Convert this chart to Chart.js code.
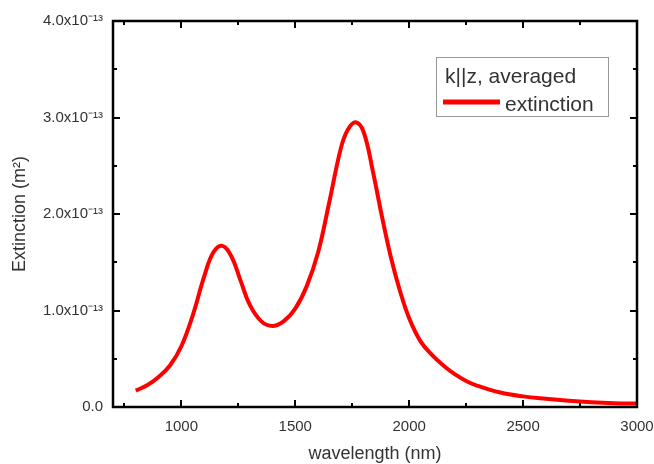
<!DOCTYPE html>
<html>
<head>
<meta charset="utf-8">
<script src="https://cdn.jsdelivr.net/npm/chart.js@4.4.0/dist/chart.umd.min.js"></script>
<style>
html,body{margin:0;padding:0;background:#fff}
#graph{display:block}
</style>
</head>
<body>
<canvas id="graph" width="654" height="464" style="width:654px;height:464px"></canvas>
<script>

// wavelength in nm
const wavelength=[800,850,900,950,1000,1050,1100,1140,1180,1220,1260,1300,1350,1400,1450,1500,1550,1600,1650,1700,1730,1765,1800,1840,1880,1920,1960,2000,2050,2100,2150,2200,2250,2300,2400,2500,2600,2700,2800,2900,3000];
// extinction in units of 1e-13 m^2
const extinction=[0.17,0.225,0.31,0.43,0.63,0.95,1.35,1.60,1.67,1.56,1.31,1.06,0.89,0.84,0.89,1.02,1.25,1.60,2.13,2.68,2.87,2.95,2.85,2.45,1.98,1.55,1.20,0.92,0.68,0.54,0.43,0.34,0.27,0.22,0.15,0.11,0.085,0.065,0.05,0.04,0.035];

const xTicks=[750,1000,1250,1500,1750,2000,2250,2500,2750,3000];
const xTickLabels=["","1000","","1500","","2000","","2500","","3000"];
const yTicks=[0,0.5,1,1.5,2,2.5,3,3.5,4];
const yTickLabels=["0.0","","1.0x10⁻¹³","","2.0x10⁻¹³","","3.0x10⁻¹³","","4.0x10⁻¹³"];

const legendTitle="k||z, averaged";
const seriesName="extinction";

const frameTicks={
id:'frameTicks',
afterDatasetsDraw(c){
const a=c.chartArea,ctx=c.ctx,xs=c.scales.x,ys=c.scales.y;
ctx.save();
ctx.strokeStyle='#000';
ctx.lineWidth=2;
ctx.beginPath();
xTicks.forEach((v,i)=>{
if(v<=xs.min||v>=xs.max)return;
const px=Math.round(xs.getPixelForValue(v));
const len=xTickLabels[i]?7:4;
ctx.moveTo(px,a.bottom);ctx.lineTo(px,a.bottom-len);
ctx.moveTo(px,a.top);ctx.lineTo(px,a.top+len);
});
yTicks.forEach((v,i)=>{
if(v<=ys.min||v>=ys.max)return;
const py=Math.round(ys.getPixelForValue(v));
const len=yTickLabels[i]?7:4;
ctx.moveTo(a.left,py);ctx.lineTo(a.left+len,py);
ctx.moveTo(a.right,py);ctx.lineTo(a.right-len,py);
});
ctx.stroke();
ctx.lineWidth=2.5;
ctx.strokeRect(a.left,a.top,a.right-a.left,a.bottom-a.top);
ctx.restore();
}
};

const boxLegend={
id:'boxLegend',
afterDraw(c){
const ctx=c.ctx,ds=c.data.datasets[0];
const bx=436,by=57,bw=172,bh=59;
ctx.save();
ctx.fillStyle='#fff';
ctx.fillRect(bx,by,bw,bh);
ctx.strokeStyle='#999';
ctx.lineWidth=1;
ctx.strokeRect(bx+0.5,by+0.5,bw,bh);
ctx.fillStyle='#333';
ctx.font='21px "Liberation Sans", Arial, sans-serif';
ctx.textBaseline='alphabetic';
ctx.fillText(legendTitle,445,83);
ctx.fillText(ds.label,505,111);
ctx.strokeStyle=ds.borderColor;
ctx.lineWidth=5;
ctx.beginPath();
ctx.moveTo(443,102);ctx.lineTo(500,102);
ctx.stroke();
ctx.restore();
}
};

const ctx=document.getElementById("graph");

new Chart(ctx,{
type:'line',
data:{
datasets:[{
label:seriesName,
data:wavelength.map((w,i)=>({x:w,y:extinction[i]})),
borderColor:"#ff0000",
borderWidth:4,
pointRadius:0,
fill:false,
tension:0.4
}]
},
options:{
responsive:false,
animation:false,
layout:{padding:{top:21,right:17,left:0,bottom:0}},
plugins:{legend:{display:false},tooltip:{enabled:false}},
scales:{
x:{
type:'linear',
min:700,max:3000,
afterFit:s=>{s.height=57;s.paddingLeft=0;s.paddingRight=0;},
afterBuildTicks:s=>{s.ticks=xTicks.map(v=>({value:v}));},
grid:{display:false,drawTicks:false},
border:{display:false},
ticks:{
autoSkip:false,maxRotation:0,padding:11,
color:'#333',
font:{family:'"Liberation Sans", Arial, sans-serif',size:15},
callback:v=>xTickLabels[xTicks.indexOf(v)]||''
},
title:{display:true,text:'wavelength (nm)',color:'#333',
font:{family:'"Liberation Sans", Arial, sans-serif',size:18,lineHeight:1},
padding:{top:0,bottom:1}}
},
y:{
type:'linear',
min:0,max:4,
afterFit:s=>{s.width=113;s.paddingTop=0;s.paddingBottom=0;},
afterBuildTicks:s=>{s.ticks=yTicks.map(v=>({value:v}));},
grid:{display:false,drawTicks:false},
border:{display:false},
ticks:{
autoSkip:false,padding:10,
color:'#333',
font:{family:'"Liberation Sans", Arial, sans-serif',size:15},
callback:v=>yTickLabels[yTicks.indexOf(v)]||''
},
title:{display:true,text:'Extinction (m²)',color:'#333',
font:{family:'"Liberation Sans", Arial, sans-serif',size:18,lineHeight:1},
padding:{top:11,bottom:0}}
}
}
},
plugins:[frameTicks,boxLegend]
});

</script>
</body>
</html>
